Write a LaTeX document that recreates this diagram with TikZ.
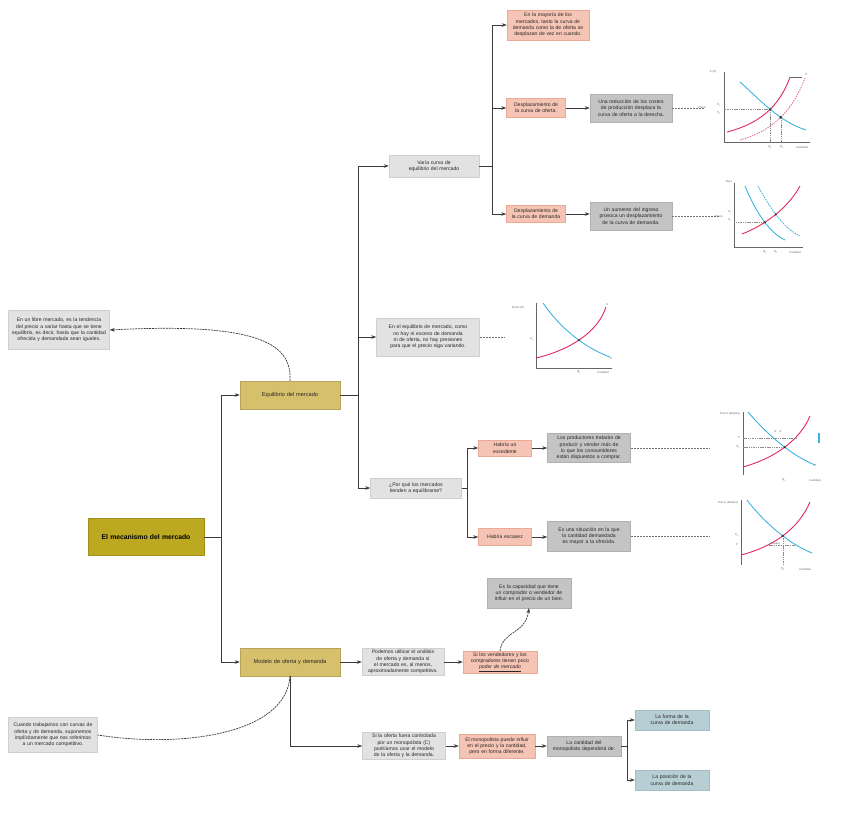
\documentclass[tikz,border=0pt]{standalone}
\usepackage{fontspec}
\setmainfont{Liberation Sans}
\usetikzlibrary{arrows.meta,calc,intersections}
\hyphenpenalty=10000
\exhyphenpenalty=10000
\definecolor{goldA}{HTML}{D6C06C}
\definecolor{goldR}{HTML}{BCA821}
\definecolor{lgray}{HTML}{E2E2E2}
\definecolor{lgrayline}{HTML}{CFCFCF}
\definecolor{dgray}{HTML}{C4C4C4}
\definecolor{dgrayline}{HTML}{B0B0B0}
\definecolor{salm}{HTML}{F6C4B4}
\definecolor{salmline}{HTML}{EDA996}
\definecolor{bgrey}{HTML}{B7CED4}
\definecolor{bgreyline}{HTML}{A3BDC4}
\definecolor{linec}{HTML}{3A3A3A}
\definecolor{cblue}{HTML}{3DB4E0}
\definecolor{cred}{HTML}{E02A5C}
\tikzset{
  txt/.style={font=\fontsize{5.1}{6.3}\selectfont, align=center, inner xsep=2.5pt, inner ysep=1pt, text=black!85},
  gbox/.style={txt, fill=lgray, draw=lgrayline, line width=0.4pt},
  dbox/.style={txt, fill=dgray, draw=dgrayline, line width=0.4pt},
  sbox/.style={txt, fill=salm, draw=salmline, line width=0.4pt},
  bbox/.style={txt, fill=bgrey, draw=bgreyline, line width=0.4pt},
  goldbox/.style={txt, font=\fontsize{5.6}{7}\selectfont, fill=goldA, draw=goldA!85!black, line width=0.4pt},
  rootbox/.style={txt, font=\fontsize{6.8}{8}\selectfont\bfseries, text=black, fill=goldR, draw=goldR!85!black, line width=0.4pt},
  conn/.style={draw=linec, line width=0.8pt, -{Stealth[length=5pt,width=3.6pt]}},
  dconn/.style={draw=linec, line width=0.7pt, dash pattern=on 2pt off 0.8pt},
  chartlink/.style={draw=black!55, line width=0.8pt, dash pattern=on 2pt off 1pt},
  axisl/.style={draw=black!60, line width=0.6pt},
  sblue/.style={draw=cblue, line width=0.9pt},
  sred/.style={draw=cred, line width=0.9pt},
  dblue/.style={draw=cblue, line width=0.8pt, dash pattern=on 1.5pt off 1pt},
  dred/.style={draw=cred!70, line width=0.8pt, dash pattern=on 1.5pt off 1pt},
  guide/.style={draw=black!45, line width=0.4pt, dash pattern=on 1.5pt off 0.8pt},
  clab/.style={font=\fontsize{2.8}{3.2}\selectfont, text=black!60, inner sep=0.5pt},
  dot/.style={fill=black!80, draw=none}
}
\begin{document}
\begin{tikzpicture}[x=1pt,y=-1pt]
\useasboundingbox[fill=white] (0,0) rectangle (848,814);

% ---------- nodes ----------
\node[rootbox, text width=111pt, minimum height=37pt] (root) at (146,537) {El mecanismo del mercado};
\node[goldbox, text width=95pt, minimum height=28pt] (eq) at (290,395) {Equilibrio del mercado};
\node[goldbox, text width=95pt, minimum height=28pt] (mod) at (290,662) {Modelo de oferta y demanda};

\node[gbox, text width=96pt, minimum height=39pt] (note1) at (59,330) {En un libre mercado, es la tendencia del precio a variar hasta que se tiene equilibrio, es decir, hasta que la cantidad ofrecida y demandada sean iguales.};
\node[gbox, text width=84pt, minimum height=35pt] (note2) at (53,735) {Cuando trabajamos con curvas de oferta y de demanda, suponemos implícitamente que nos referimos a un mercado competitivo.};

\node[gbox, text width=85pt, minimum height=22pt] (varia) at (434,166) {Varía curva de equilibrio del mercado};
\node[sbox, text width=77pt, minimum height=30pt] (top) at (548,25) {En la mayoría de los mercados, tanto la curva de demanda como la de oferta se desplazan de vez en cuando.};
\node[sbox, text width=54pt, minimum height=19pt] (doferta) at (536,108) {Desplazamiento de la curva de oferta.};
\node[dbox, text width=77pt, minimum height=28pt] (reduccion) at (631,108) {Una reducción de los costes de producción desplaza la curva de oferta a la derecha.};
\node[sbox, text width=54pt, minimum height=17pt] (ddemanda) at (536,214) {Desplazamiento de la curva de demanda};
\node[dbox, text width=77pt, minimum height=28pt] (aumento) at (631,216) {Un aumento del ingreso provoca un desplazamiento de la curva de demanda.};

\node[gbox, text width=98pt, minimum height=38pt] (enequi) at (428,337) {En el equilibrio de mercado, como no hay ni exceso de demanda ni de oferta, no hay presiones para que el precio siga variando.};

\node[gbox, text width=86pt, minimum height=20pt] (porque) at (416,488) {¿Por qué los mercados tienden a equilibrarse?};
\node[sbox, text width=48pt, minimum height=16pt] (exced) at (505,448) {Habría un\\excedente};
\node[dbox, text width=78pt, minimum height=29pt] (productores) at (589,448) {Los productores tratarán de producir y vender más de lo que los consumidores están dispuestos a comprar.};
\node[sbox, text width=48pt, minimum height=17pt] (escasez) at (505,537) {Habría escasez};
\node[dbox, text width=78pt, minimum height=30pt] (situacion) at (589,536) {Es una situación en la que la cantidad demandada es mayor a la ofrecida.};

\node[dbox, text width=79pt, minimum height=30pt] (capacidad) at (529,593) {Es la capacidad que tiene un comprador o vendedor de influir en el precio de un bien.};
\node[gbox, text width=77pt, minimum height=27pt] (podemos) at (403,662) {Podemos utilizar el análisis de oferta y demanda si el mercado es, al menos, aproximadamente competitivo.};
\node[sbox, text width=69pt, minimum height=22pt] (vendedores) at (500,662) {Si los vendedores y los\\compradores tienen poco\\\underline{\textit{poder de mercado}}};

\node[gbox, text width=78pt, minimum height=27pt] (siofer) at (404,746) {Si la oferta fuera controlada por un monopolista (C) podríamos usar el modelo de la oferta y la demanda.};
\node[sbox, text width=71pt, minimum height=24pt] (monop) at (497,746) {El monopolista puede influir en el precio y la cantidad, pero en forma diferente.};
\node[dbox, text width=69pt, minimum height=20pt] (cantidad) at (584,746) {La cantidad del monopolista dependerá de:};
\node[bbox, text width=69pt, minimum height=20pt] (forma) at (672,720) {La forma de la curva de demanda};
\node[bbox, text width=69pt, minimum height=20pt] (posicion) at (672,780) {La posición de la curva de demanda};

% ---------- connectors ----------
\draw[conn] (root.east) -- ++(17,0) |- (eq.west);
\draw[conn] (root.east) -- ++(17,0) |- (mod.west);

\draw[conn] (eq.east) -- ++(18,0) |- (varia.west);
\draw[conn] (eq.east) -- ++(18,0) |- (enequi.west);
\draw[conn] (eq.east) -- ++(18,0) |- (porque.west);

\draw[conn] (varia.east) -- ++(13,0) |- (top.west);
\draw[conn] (varia.east) -- ++(13,0) |- (doferta.west);
\draw[conn] (varia.east) -- ++(13,0) |- (ddemanda.west);
\draw[conn] (doferta.east) -- (reduccion.west);
\draw[conn] (ddemanda.east) -- (ddemanda.east -| aumento.west);

\draw[conn] (porque.east) -- ++(6,0) |- (exced.west);
\draw[conn] (porque.east) -- ++(6,0) |- (escasez.west);
\draw[conn] (exced.east) -- (productores.west);
\draw[conn] (escasez.east) -- (escasez.east -| situacion.west);

\draw[conn] (mod.east) -- (podemos.west);
\draw[conn] (podemos.east) -- (vendedores.west);
\draw[conn] (mod.south) |- (siofer.west);
\draw[conn] (siofer.east) -- (monop.west);
\draw[conn] (monop.east) -- (cantidad.west);
\draw[conn] (cantidad.east) -- ++(6,0) |- (forma.west);
\draw[conn] (cantidad.east) -- ++(6,0) |- (posicion.west);

\draw[dconn, -{Stealth[length=5pt,width=3.6pt]}] (eq.north) .. controls (292,345) and (262,322) .. (note1.east);
\draw[dconn] (mod.south) .. controls (286,735) and (180,748) .. (note2.east);
\draw[dconn, -{Stealth[length=5pt,width=3.6pt]}] (vendedores.north) .. controls (503,630) and (525,635) .. (capacidad.south);

% chart anchors
\coordinate (c1) at (704,108);
\coordinate (c2) at (719,216);
\coordinate (c3) at (505,337);
\coordinate (c4) at (710,448);
\coordinate (c5) at (710,536);
\draw[chartlink] (reduccion.east) -- (c1);
\draw[chartlink] (aumento.east) -- (aumento.east -| c2);
\draw[chartlink] (enequi.east) -- (enequi.east -| c3);
\draw[chartlink] (productores.east) -- (c4);
\draw[chartlink] (situacion.east) -- (situacion.east -| c5);

% ---------- chart 1: supply shift ----------
\coordinate (o1) at (724,142);
\draw[axisl] (724,72) -- (o1) -- (810,142);
\draw[dred, name path=s1b] (740,140) .. controls (772,131) and (792,112) .. (805,78);
\draw[sred, name path=s1] (727,132) .. controls (758,124) and (779,108) .. (790,77);
\draw[black!60, line width=0.5pt] (790,77) -- (802,77);
\draw[sblue, name path=d1] (740,82) .. controls (760,100) and (780,122) .. (806,130);
\path[name intersections={of=d1 and s1, by=i1a}];
\path[name intersections={of=d1 and s1b, by=i1b}];
\draw[guide] (i1a) -- (i1a -| o1);
\draw[guide] (i1b) -- (i1b |- o1);
\draw[guide] (i1a) -- (i1a |- o1);
\fill[dot] (i1a) circle (1.3);
\fill[dot] (i1b) circle (1.3);
\node[clab] (l1p) at (713,72) {P (€)};
\node[clab] (l1a) at (719,105) {P\textsubscript{1}};
\node[clab] (l1b) at (719,113) {P\textsubscript{2}};
\node[clab] (l1c) at (702,107) {Precio};
\node[clab] (l1d) at ($(i1a |- o1)+(0,5)$) {Q\textsubscript{1}};
\node[clab] (l1e) at ($(i1b |- o1)+(1,5)$) {Q\textsubscript{2}};
\node[clab] (l1f) at (802,147) {Cantidad};
\node[clab] (l1g) at (806,75) {S};

% ---------- chart 2: demand shift ----------
\coordinate (o2) at (734,247);
\draw[axisl] (734,183) -- (o2) -- (803,247);
\draw[sred, name path=s2] (742,234) .. controls (765,225) and (788,208) .. (800,186);
\draw[sblue, name path=d2] (745,186) .. controls (755,210) and (768,232) .. (785,240);
\draw[dblue, name path=d2b] (758,186) .. controls (770,208) and (783,228) .. (800,236);
\path[name intersections={of=d2 and s2, by=i2a}];
\path[name intersections={of=d2b and s2, by=i2b}];
\draw[guide] (i2a) -- (i2a -| o2);
\fill[dot] (i2a) circle (1.2);
\fill[dot] (i2b) circle (1.2);
\node[clab] (l2p) at (729,182) {Euro};
\node[clab] (l2a) at (730,212) {P\textsubscript{2}};
\node[clab] (l2b) at (730,220) {P\textsubscript{1}};
\node[clab] (l2c) at (719,216) {Precio};
\node[clab] (l2d) at ($(i2a |- o2)+(0,5)$) {Q\textsubscript{1}};
\node[clab] (l2e) at ($(i2b |- o2)+(0,5)$) {Q\textsubscript{2}};
\node[clab] (l2f) at (795,252) {Cantidad};

% ---------- chart 3: equilibrium ----------
\coordinate (o3) at (536,368);
\draw[axisl] (536,303) -- (o3) -- (612,368);
\draw[sblue, name path=d3] (543,303) .. controls (560,328) and (585,348) .. (610,357);
\draw[sred, name path=s3] (536,358) .. controls (570,350) and (598,332) .. (606,307);
\path[name intersections={of=d3 and s3, by=i3}];
\fill[dot] (i3) circle (1.2);
\node[clab] (l3p) at (518,308) {Precio (P)};
\node[clab] (l3a) at (532,339) {P\textsubscript{0}};
\node[clab] (l3b) at ($(i3 |- o3)+(0,4)$) {Q\textsubscript{0}};
\node[clab] (l3c) at (603,372) {Cantidad};
\node[clab] (l3d) at (607,305) {S};
\node[clab] (l3e) at (611,359) {D};

% ---------- chart 4: surplus ----------
\coordinate (o4) at (743,475);
\draw[axisl] (743,412) -- (o4);
\draw[sblue, name path=d4] (748,412) .. controls (765,432) and (790,455) .. (815,465);
\draw[sred, name path=s4] (743,467) .. controls (775,458) and (800,440) .. (810,416);
\path[name intersections={of=d4 and s4, by=i4}];
\draw[guide] (743,438) -- (797,438);
\draw[guide] (i4) -- (i4 -| o4);
\fill[dot] (i4) circle (1.2);
\fill[cblue] (818,433) rectangle (820,443);
\node[clab] (l4p) at (730,414) {Precio (dólares)};
\node[clab] (l4a) at (739,438) {P};
\node[clab] (l4b) at (738,447) {P\textsubscript{0}};
\node[clab] (l4c) at (784,480) {Q\textsubscript{0}};
\node[clab] (l4d) at (815,480) {Cantidad};
\node[clab] (l4e) at (778,432) {E\quad S};
\node[clab] (l4f) at (815,466) {D};

% ---------- chart 5: shortage ----------
\coordinate (o5) at (741,565);
\draw[axisl] (741,500) -- (o5);
\draw[sblue, name path=d5] (747,500) .. controls (762,520) and (787,543) .. (812,553);
\draw[sred, name path=s5] (741,555) .. controls (772,547) and (798,530) .. (810,502);
\path[name intersections={of=d5 and s5, by=i5}];
\draw[guide] (769,545) -- (795,545);
\draw[guide] (i5) -- (i5 |- o5);
\fill[dot] (i5) circle (1.2);
\node[clab] (l5p) at (728,503) {Precio (dólares)};
\node[clab] (l5a) at (737,535) {P\textsubscript{0}};
\node[clab] (l5b) at (737,545) {P};
\node[clab] (l5c) at ($(i5 |- o5)+(0,4)$) {Q\textsubscript{0}};
\node[clab] (l5d) at (805,569) {Cantidad};
\node[clab] (l5e) at (775,544) {escasez};
\end{tikzpicture}
\end{document}
